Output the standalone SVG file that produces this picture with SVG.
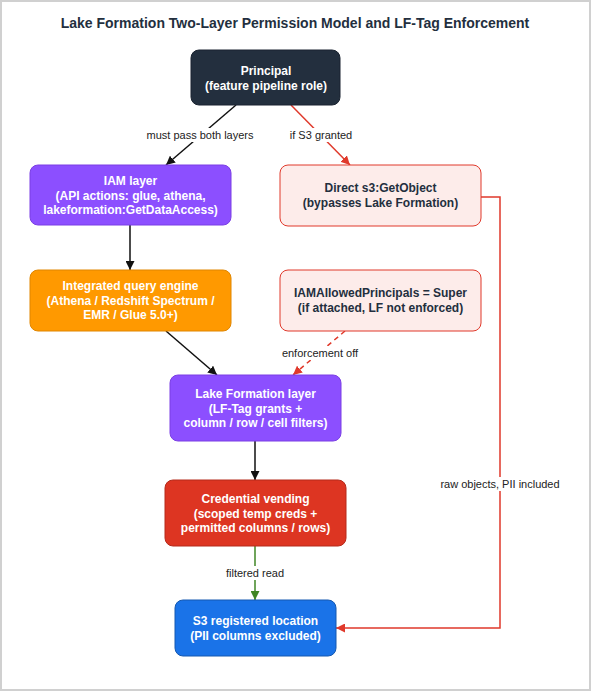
<svg xmlns="http://www.w3.org/2000/svg" width="591" height="691" viewBox="0 0 591 691">
<style>
.title{font-family:"Liberation Sans",Arial,sans-serif;font-size:14px;font-weight:bold;fill:#232F3E;text-anchor:middle}
.nt{font-family:"Liberation Sans",Arial,sans-serif;font-size:12px;font-weight:bold;fill:#fff;text-anchor:middle}
.nd{font-family:"Liberation Sans",Arial,sans-serif;font-size:12px;font-weight:bold;fill:#232F3E;text-anchor:middle}
.lb{font-family:"Liberation Sans",Arial,sans-serif;font-size:11px;fill:#222;text-anchor:middle}
.bg{fill:#fff}
.k{stroke:#111;stroke-width:1.5;fill:none}
.r{stroke:#E0392B;stroke-width:1.5;fill:none}
.g{stroke:#3F8624;stroke-width:1.5;fill:none}
</style>
<defs>
<marker id="ak" viewBox="0 0 10 10" refX="10" refY="5" markerWidth="9" markerHeight="9" markerUnits="userSpaceOnUse" orient="auto"><path d="M0,0 L10,5 L0,10 z" fill="#111"/></marker>
<marker id="ar" viewBox="0 0 10 10" refX="10" refY="5" markerWidth="9" markerHeight="9" markerUnits="userSpaceOnUse" orient="auto"><path d="M0,0 L10,5 L0,10 z" fill="#E0392B"/></marker>
<marker id="ag" viewBox="0 0 10 10" refX="10" refY="5" markerWidth="9" markerHeight="9" markerUnits="userSpaceOnUse" orient="auto"><path d="M0,0 L10,5 L0,10 z" fill="#3F8624"/></marker>
</defs>
<rect x="1" y="1" width="589" height="689" fill="#fff" stroke="#d0d0d0" stroke-width="2"/>
<text class="title" x="295" y="28">Lake Formation Two-Layer Permission Model and LF-Tag Enforcement</text>

<g id="connectors">
<line class="k" x1="236" y1="105" x2="166" y2="165" marker-end="url(#ak)"/>
<rect class="bg" x="145" y="128" width="110" height="14"/>
<text class="lb" x="200" y="139">must pass both layers</text>
<line class="r" x1="291" y1="105" x2="350" y2="165" marker-end="url(#ar)"/>
<rect class="bg" x="290" y="128" width="63" height="14"/>
<text class="lb" x="321" y="139">if S3 granted</text>
<line class="k" x1="130" y1="225" x2="130" y2="270" marker-end="url(#ak)"/>
<line class="k" x1="166" y1="331" x2="217" y2="375" marker-end="url(#ak)"/>
<line class="r" x1="345" y1="331" x2="293" y2="375" stroke-dasharray="5,4" marker-end="url(#ar)"/>
<rect class="bg" x="281" y="346" width="78" height="14"/>
<text class="lb" x="320" y="357">enforcement off</text>
<line class="k" x1="255" y1="441" x2="255" y2="480" marker-end="url(#ak)"/>
<line class="g" x1="255" y1="546" x2="255" y2="600" marker-end="url(#ag)"/>
<rect class="bg" x="222" y="566" width="66" height="14"/>
<text class="lb" x="255" y="577">filtered read</text>
<polyline class="r" points="481,197 500,197 500,628 336,628" marker-end="url(#ar)"/>
<rect class="bg" x="439" y="477" width="122" height="14"/>
<text class="lb" x="500" y="488">raw objects, PII included</text>
</g>

<g id="principal">
<rect x="191" y="50" width="149" height="55" rx="8" fill="#232F3E" stroke="#1a2330"/>
<text class="nt" x="266" y="75">Principal</text>
<text class="nt" x="266" y="90">(feature pipeline role)</text>
</g>
<g id="iam">
<rect x="30" y="165" width="201" height="60" rx="8" fill="#8C4FFF" stroke="#7B3FE4"/>
<text class="nt" x="130.5" y="185">IAM layer</text>
<text class="nt" x="130.5" y="199.5">(API actions: glue, athena,</text>
<text class="nt" x="130.5" y="214">lakeformation:GetDataAccess)</text>
</g>
<g id="engine">
<rect x="30" y="270" width="201" height="61" rx="8" fill="#FF9900" stroke="#E08600"/>
<text class="nt" x="130.5" y="290">Integrated query engine</text>
<text class="nt" x="130.5" y="304.5">(Athena / Redshift Spectrum /</text>
<text class="nt" x="130.5" y="319">EMR / Glue 5.0+)</text>
</g>
<g id="direct">
<rect x="280" y="165" width="201" height="61" rx="8" fill="#FDECEA" stroke="#E0392B"/>
<text class="nd" x="380.5" y="192">Direct s3:GetObject</text>
<text class="nd" x="380.5" y="207">(bypasses Lake Formation)</text>
</g>
<g id="iamallowed">
<rect x="280" y="270" width="201" height="61" rx="8" fill="#FDECEA" stroke="#E0392B"/>
<text class="nd" x="380.5" y="297">IAMAllowedPrincipals = Super</text>
<text class="nd" x="380.5" y="312">(if attached, LF not enforced)</text>
</g>
<g id="lf">
<rect x="170" y="375" width="171" height="66" rx="8" fill="#8C4FFF" stroke="#7B3FE4"/>
<text class="nt" x="255.5" y="398">Lake Formation layer</text>
<text class="nt" x="255.5" y="412.5">(LF-Tag grants +</text>
<text class="nt" x="255.5" y="427">column / row / cell filters)</text>
</g>
<g id="cred">
<rect x="165" y="480" width="181" height="66" rx="8" fill="#DD3522" stroke="#B52A1B"/>
<text class="nt" x="255.5" y="503">Credential vending</text>
<text class="nt" x="255.5" y="517.5">(scoped temp creds +</text>
<text class="nt" x="255.5" y="532">permitted columns / rows)</text>
</g>
<g id="s3">
<rect x="175" y="600" width="161" height="56" rx="8" fill="#1A73E8" stroke="#1558B0"/>
<text class="nt" x="255.5" y="625">S3 registered location</text>
<text class="nt" x="255.5" y="640">(PII columns excluded)</text>
</g>
</svg>
